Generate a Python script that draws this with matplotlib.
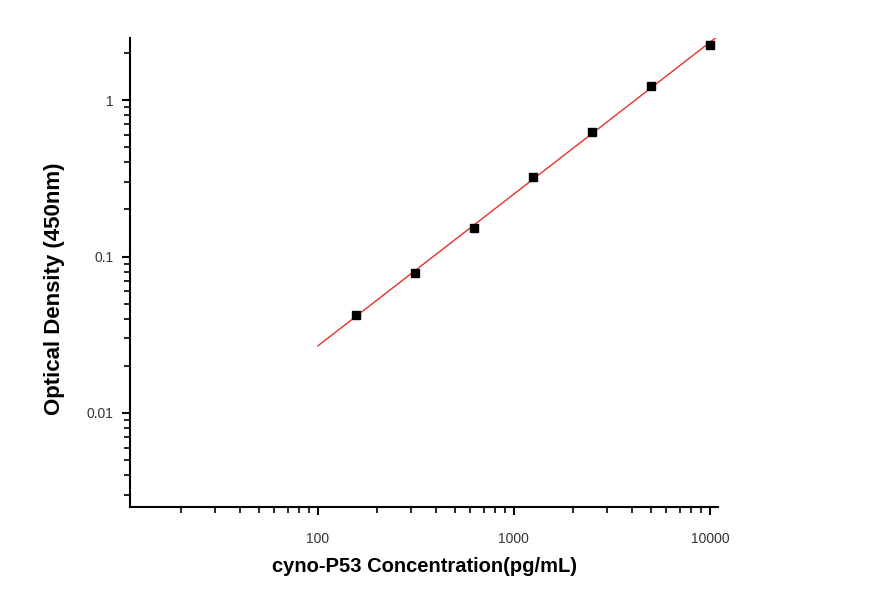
import numpy as np
import matplotlib
matplotlib.use('Agg')
import matplotlib.pyplot as plt
from matplotlib.ticker import LogLocator, FixedLocator, NullFormatter

plt.rcParams['font.family'] = ['Liberation Sans', 'DejaVu Sans']

# standard curve data
conc = [156.25, 312.5, 625, 1250, 2500, 5000, 10000]
od = [0.042, 0.079, 0.153, 0.324, 0.63, 1.23, 2.25]
x_ticks = [100, 1000, 10000]
x_tick_labels = ['100', '1000', '10000']
y_ticks = [0.01, 0.1, 1]
y_tick_labels = ['0.01', '0.1', '1']

fig = plt.figure(figsize=(8.92, 5.97), dpi=100)
ax = fig.add_axes([0.1457, 0.1508, 0.6593, 0.7855])

# linear fit in log-log space
slope, icpt = np.polyfit(np.log10(conc), np.log10(od), 1)
xf = np.logspace(2, np.log10(10900), 100)
ax.plot(xf, 10 ** (icpt + slope * np.log10(xf)), color='#e8302a', lw=1.0)
ax.plot(conc, od, 'ks', markersize=6)

ax.set_xscale('log')
ax.set_yscale('log')
ax.set_xlim(11, 11000)
ax.set_ylim(0.0025, 2.5)

ax.xaxis.set_major_locator(FixedLocator(x_ticks))
ax.set_xticklabels(x_tick_labels)
ax.yaxis.set_major_locator(FixedLocator(y_ticks))
ax.set_yticklabels(y_tick_labels)
ax.xaxis.set_minor_locator(LogLocator(base=10, subs=np.arange(2, 10), numticks=20))
ax.yaxis.set_minor_locator(LogLocator(base=10, subs=np.arange(2, 10), numticks=20))
ax.xaxis.set_minor_formatter(NullFormatter())
ax.yaxis.set_minor_formatter(NullFormatter())

for side in ['top', 'right']:
    ax.spines[side].set_visible(False)
for side in ['left', 'bottom']:
    ax.spines[side].set_linewidth(1.5)

ax.tick_params(which='major', direction='out', length=6, width=1.5,
               labelsize=10, labelcolor='#333333')
ax.tick_params(axis='x', which='major', pad=12)
ax.tick_params(axis='y', which='major', pad=6)
ax.tick_params(which='minor', direction='out', length=4, width=1.2)

ax.set_xlabel('cyno-P53 Concentration(pg/mL)', fontsize=14.5, fontweight='bold', labelpad=8)
ax.set_ylabel('Optical Density (450nm)', fontsize=16, fontweight='bold')
ax.yaxis.set_label_coords(-0.11, 0.465)

fig.savefig('out.png', dpi=100)
